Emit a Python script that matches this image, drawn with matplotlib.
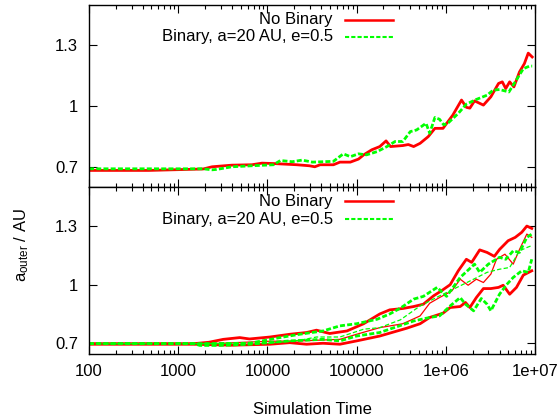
import matplotlib
matplotlib.use('Agg')
import matplotlib.pyplot as plt
from matplotlib.ticker import LogLocator, FixedLocator, NullFormatter

plt.rcParams['font.family'] = ['Liberation Sans', 'DejaVu Sans']
plt.rcParams['font.size'] = 12
plt.rcParams['mathtext.default'] = 'regular'

RED = '#ff0000'
GREEN = '#00ff00'

# ---- top panel: single runs ----
top_nb_t = [100, 470, 1900, 2400, 4000, 6700, 8700, 11700, 21400, 29500, 34000, 39000,
            55000, 65000, 85000, 105000, 120000, 148000, 182000, 214000, 240000, 330000,
            380000, 436000, 515000, 635000, 755000, 930000, 1.2e6, 1.5e6, 1.7e6, 1.86e6,
            2.1e6, 2.64e6, 3.2e6, 3.9e6, 4.3e6, 4.7e6, 5.2e6, 5.8e6, 6.7e6, 7.6e6, 8.4e6, 9.3e6]
top_nb_a = [0.682, 0.682, 0.689, 0.700, 0.708, 0.710, 0.718, 0.716, 0.710, 0.705, 0.700, 0.710,
            0.710, 0.723, 0.723, 0.738, 0.759, 0.784, 0.800, 0.828, 0.800, 0.805,
            0.810, 0.800, 0.816, 0.849, 0.890, 0.890, 0.956, 1.030, 0.994, 0.990,
            1.026, 1.005, 1.046, 1.112, 1.120, 1.087, 1.120, 1.095, 1.169, 1.210, 1.262, 1.243]

top_b_t = [100, 1900, 2400, 2700, 4000, 6700, 11700, 14000, 19000, 24500, 32000, 55000,
           71000, 85000, 105000, 129000, 170000, 219000, 270000, 330000, 400000, 470000,
           600000, 660000, 755000, 850000, 950000, 1.07e6, 1.38e6, 1.7e6, 2.2e6, 2.9e6,
           3.4e6, 4.0e6, 5.1e6, 6.0e6, 7.4e6, 8.7e6, 9.3e6]
top_b_a = [0.690, 0.690, 0.685, 0.687, 0.700, 0.705, 0.710, 0.731, 0.725, 0.733, 0.723, 0.727,
           0.764, 0.750, 0.764, 0.759, 0.775, 0.800, 0.825, 0.825, 0.874, 0.882,
           0.915, 0.866, 0.944, 0.935, 0.907, 0.918, 0.964, 1.010, 1.033, 1.054,
           1.079, 1.082, 1.070, 1.120, 1.185, 1.198, 1.198]

# ---- bottom panel: mean (thin) and spread (thick) ----
nb_hi_t = [100, 1500, 2200, 3200, 4900, 6300, 10700, 17800, 27500, 35500, 50000, 78000,
           120000, 182000, 235000, 330000, 436000, 560000, 730000, 890000, 1.12e6, 1.38e6,
           1.7e6, 1.95e6, 2.4e6, 2.9e6, 3.5e6, 4.0e6, 5.0e6, 6.0e6, 7.1e6, 8.1e6, 9.2e6]
nb_hi_a = [0.698, 0.698, 0.705, 0.720, 0.729, 0.722, 0.732, 0.746, 0.755, 0.767, 0.750, 0.763,
           0.800, 0.850, 0.871, 0.878, 0.888, 0.900, 0.943, 0.968, 1.000, 1.071,
           1.130, 1.114, 1.178, 1.165, 1.145, 1.180, 1.225, 1.242, 1.268, 1.300, 1.288]

nb_lo_t = [100, 1500, 4000, 10700, 17800, 27500, 42000, 65000, 100000, 182000, 365000,
           515000, 660000, 930000, 1.12e6, 1.45e6, 1.66e6, 1.86e6, 2.2e6, 2.64e6, 3.2e6,
           3.9e6, 4.4e6, 5.2e6, 6.2e6, 7.4e6, 9.2e6]
nb_lo_a = [0.695, 0.695, 0.690, 0.695, 0.703, 0.695, 0.700, 0.695, 0.712, 0.737, 0.777,
           0.800, 0.832, 0.854, 0.883, 0.888, 0.909, 0.883, 0.934, 0.980, 0.980,
           0.986, 0.997, 0.951, 0.986, 1.049, 1.071]

nb_mid_t = [100, 1500, 3000, 10000, 23000, 65000, 100000, 182000, 330000, 515000, 660000,
            850000, 1.17e6, 1.45e6, 1.78e6, 2.2e6, 2.64e6, 3.2e6, 3.7e6, 4.6e6, 5.7e6,
            6.7e6, 8.1e6, 9.2e6]
nb_mid_a = [0.698, 0.698, 0.700, 0.710, 0.712, 0.720, 0.746, 0.780, 0.800, 0.840, 0.905,
            0.934, 0.968, 1.028, 0.997, 1.028, 1.011, 1.054, 1.130, 1.156, 1.105,
            1.180, 1.259, 1.242]

b_hi_t = [100, 1500, 6300, 13800, 23000, 42000, 65000, 100000, 170000, 235000, 310000,
          436000, 560000, 800000, 1.02e6, 1.45e6, 2.1e6, 2.4e6, 3.0e6, 4.0e6, 4.7e6,
          5.7e6, 6.7e6, 8.1e6, 9.2e6]
b_hi_a = [0.698, 0.698, 0.700, 0.729, 0.746, 0.763, 0.789, 0.800, 0.823, 0.850, 0.880,
          0.926, 0.940, 0.986, 0.940, 1.037, 1.105, 1.063, 1.105, 1.140, 1.130,
          1.173, 1.165, 1.242, 1.259]

b_mid_t = [100, 1500, 10000, 23000, 35500, 65000, 120000, 182000, 310000, 515000, 830000,
           1.02e6, 1.45e6, 2.05e6, 2.9e6, 4.0e6, 5.2e6, 6.7e6, 8.1e6, 9.2e6]
b_mid_a = [0.698, 0.698, 0.700, 0.715, 0.732, 0.732, 0.772, 0.780, 0.820, 0.891, 0.940,
           0.960, 0.994, 1.028, 1.063, 1.079, 1.088, 1.173, 1.190, 1.200]

b_lo_t = [100, 1500, 1750, 2950, 6300, 17800, 42000, 65000, 100000, 182000, 436000,
          660000, 850000, 1.12e6, 1.45e6, 1.66e6, 2.05e6, 2.5e6, 2.9e6, 3.2e6, 4.0e6,
          4.8e6, 5.7e6, 7.1e6, 8.4e6, 9.2e6]
b_lo_a = [0.698, 0.698, 0.689, 0.689, 0.695, 0.712, 0.720, 0.712, 0.737, 0.755, 0.814,
          0.832, 0.840, 0.891, 0.934, 0.900, 0.866, 0.929, 0.900, 0.866, 0.951,
          1.000, 1.037, 1.071, 1.063, 1.130]

labels = ['No Binary', 'Binary, a=20 AU, e=0.5']
xticks = [100, 1000, 10000, 100000, 1e6, 1e7]
xticklabels = ['100', '1000', '10000', '100000', '1e+06', '1e+07']
yticks = [0.7, 1.0, 1.3]
yticklabels = ['0.7', '1', '1.3']

W, H = 558, 419
fig = plt.figure(figsize=(W / 100, H / 100), dpi=100)
ax_top = fig.add_axes([89 / W, 1 - 187 / H, 446 / W, 182 / H])
ax_bot = fig.add_axes([89 / W, 1 - 354 / H, 446 / W, 167 / H])

green_dash = (0, (1.8, 0.8))

ax_top.plot(top_nb_t, top_nb_a, color=RED, lw=2.0)
ax_top.plot(top_b_t, top_b_a, color=GREEN, lw=2.0, ls=green_dash)

ax_bot.plot(nb_hi_t, nb_hi_a, color=RED, lw=2.0)
ax_bot.plot(nb_lo_t, nb_lo_a, color=RED, lw=2.0)
ax_bot.plot(nb_mid_t, nb_mid_a, color=RED, lw=0.9)
ax_bot.plot(b_hi_t, b_hi_a, color=GREEN, lw=2.0, ls=green_dash)
ax_bot.plot(b_lo_t, b_lo_a, color=GREEN, lw=2.0, ls=green_dash)
ax_bot.plot(b_mid_t, b_mid_a, color=GREEN, lw=0.9, ls=(0, (3.5, 1.8)))

for ax, ylo, rows in [(ax_top, 0.6, (0.918, 0.825)), (ax_bot, 0.645, (0.915, 0.806))]:
    ax.set_xscale('log')
    ax.set_xlim(100, 1e7)
    ax.set_ylim(ylo, 1.5)
    ax.xaxis.set_major_locator(FixedLocator(xticks))
    ax.xaxis.set_minor_locator(LogLocator(base=10, subs=range(2, 10)))
    ax.xaxis.set_minor_formatter(NullFormatter())
    ax.set_yticks(yticks)
    ax.set_yticklabels(yticklabels)
    ax.tick_params(which='both', direction='in', top=True, right=True, width=0.8)
    ax.tick_params(which='major', length=6)
    ax.tick_params(which='minor', length=3)
    ax.tick_params(axis='y', pad=8)
    for s in ax.spines.values():
        s.set_linewidth(1.0)
    # gnuplot style key: right justified text then sample line
    ax.text(0.547, rows[0], labels[0], transform=ax.transAxes, ha='right', va='center')
    ax.text(0.547, rows[1], labels[1], transform=ax.transAxes, ha='right', va='center')
    ax.plot([0.574, 0.682], [rows[0], rows[0]], transform=ax.transAxes, color=RED, lw=1.8)
    ax.plot([0.574, 0.682], [rows[1], rows[1]], transform=ax.transAxes, color=GREEN,
            lw=1.5, ls=(0, (2, 1)))

ax_top.set_xticklabels([])
ax_bot.set_xticks(xticks)
ax_bot.set_xticklabels(xticklabels)
ax_bot.tick_params(axis='x', pad=7)
ax_bot.set_xlabel('Simulation Time', labelpad=17)

fig.text(22 / W, 1 - 245 / H, '$a_{outer}$ / AU', rotation=90, ha='center', va='center')

fig.savefig('out.png', dpi=100)
